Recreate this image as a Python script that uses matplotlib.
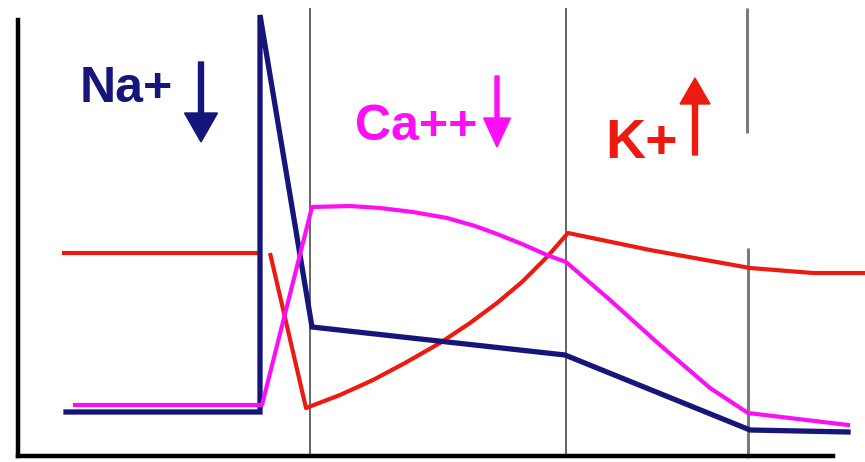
import matplotlib
matplotlib.use("Agg")
import matplotlib.pyplot as plt
import numpy as np

# time axis and levels in picture units (x to the right, y downward)
na_t = [66, 260, 260, 312, 565, 750, 848]
na_v = [412, 412, 15, 327, 355, 430, 432]

ca_t = [75, 262, 312, 350, 380, 413, 447, 475, 497, 522, 547, 566, 610, 660, 710, 748, 848]
ca_v = [405, 405, 207, 206, 208, 212, 218, 226, 234, 244, 255, 262, 300, 345, 388, 413, 425]

k_t = [62, 258, np.nan, 270, 306, 340, 373, 405, 440, 470, 497, 522, 547, 568, 650, 750, 813, 865]
k_v = [253, 253, np.nan, 253, 408, 395, 380, 363, 343, 323, 303, 282, 257, 233, 250, 268, 273, 273]

phase_t = [310, 566]
labels = ["Na+", "Ca++", "K+"]

NAVY = "#16167a"
MAGENTA = "#fb10f6"
RED = "#ec1a10"

W, H = 865, 462
fig = plt.figure(figsize=(W / 100, H / 100), dpi=100)
x0, x1, y0, y1 = 18, 833, 20, 456
ax = fig.add_axes([x0 / W, (H - y1) / H, (x1 - x0) / W, (y1 - y0) / H])
ax.set_xlim(x0, x1)
ax.set_ylim(y1, y0)
ax.set_xticks([])
ax.set_yticks([])
for s in ["top", "right"]:
    ax.spines[s].set_visible(False)
for s in ["left", "bottom"]:
    ax.spines[s].set_linewidth(3.2)
    ax.spines[s].set_color("black")

# phase boundaries
ax.vlines(phase_t, 8, 458, color="#3c3c3c", lw=1.1, zorder=1, clip_on=False)
ax.vlines([747, 748], [8, 248], [133, 458], color="#7a7a7a", lw=2.2, zorder=1, clip_on=False)

ax.plot(k_t, k_v, color=RED, lw=3.0, zorder=3, clip_on=False, solid_capstyle="butt")
ax.plot(na_t, na_v, color=NAVY, lw=3.8, zorder=4, clip_on=False, solid_joinstyle="miter")
ax.plot(ca_t, ca_v, color=MAGENTA, lw=3.0, zorder=5, clip_on=False)

font = ["Liberation Sans", "DejaVu Sans"]
ax.text(80, 102, labels[0], color=NAVY, fontsize=36, fontweight="bold",
        family=font, va="baseline", ha="left")
ax.text(355, 140, labels[1], color=MAGENTA, fontsize=36, fontweight="bold",
        family=font, va="baseline", ha="left")
ax.text(605, 158, labels[2], color=RED, fontsize=40, fontweight="bold",
        family=font, va="baseline", ha="left")

ax.arrow(201, 62, 0, 80, width=5, head_width=33, head_length=29,
         length_includes_head=True, color=NAVY, clip_on=False)
ax.arrow(497, 76, 0, 71, width=4, head_width=27, head_length=29,
         length_includes_head=True, color=MAGENTA, clip_on=False)
ax.arrow(695, 155, 0, -77, width=5, head_width=30, head_length=26,
         length_includes_head=True, color=RED, clip_on=False)

fig.savefig("out.png", dpi=100)
